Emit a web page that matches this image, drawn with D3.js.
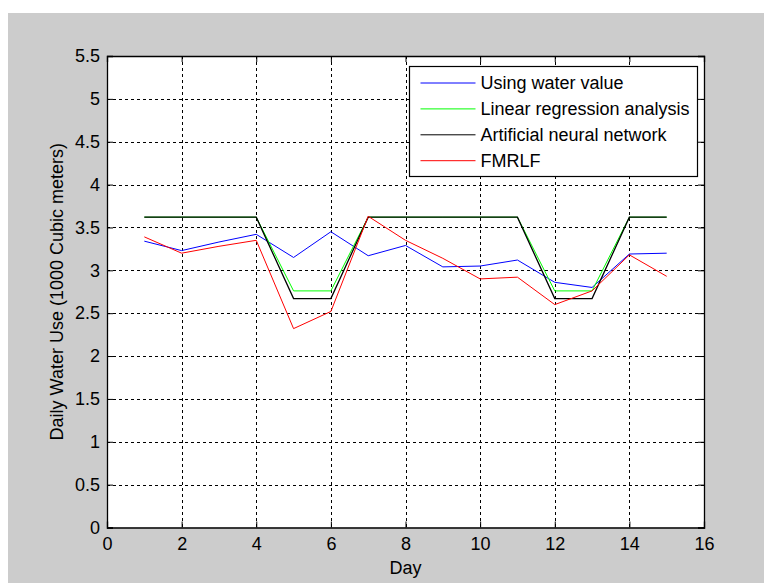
<!DOCTYPE html>
<html>
<head>
<meta charset="utf-8">
<script src="https://cdn.jsdelivr.net/npm/d3@7"></script>
<style>
  html, body { margin: 0; padding: 0; background: #fff; }
  svg { display: block; }
</style>
</head>
<body>
<div id="chart"></div>
<script>
const days = [1, 2, 3, 4, 5, 6, 7, 8, 9, 10, 11, 12, 13, 14, 15];
const waterValue = [3.34, 3.23, 3.33, 3.42, 3.15, 3.45, 3.17, 3.29, 3.04, 3.05, 3.12, 2.86, 2.80, 3.19, 3.20];
const linearRegression = [3.62, 3.62, 3.62, 3.62, 2.76, 2.76, 3.62, 3.62, 3.62, 3.62, 3.62, 2.76, 2.76, 3.62, 3.62];
const neuralNetwork = [3.62, 3.62, 3.62, 3.62, 2.67, 2.67, 3.62, 3.62, 3.62, 3.62, 3.62, 2.67, 2.67, 3.62, 3.62];
const fmrlf = [3.39, 3.20, 3.28, 3.35, 2.32, 2.52, 3.63, 3.35, 3.14, 2.90, 2.92, 2.60, 2.76, 3.18, 2.93];
const xTicks = [0, 2, 4, 6, 8, 10, 12, 14, 16];
const yTicks = [0, 0.5, 1, 1.5, 2, 2.5, 3, 3.5, 4, 4.5, 5, 5.5];

const series = [
  { name: "Using water value", values: waterValue, color: "#0000ff", w: 1 },
  { name: "Linear regression analysis", values: linearRegression, color: "#00ff00", w: 1 },
  { name: "Artificial neural network", values: neuralNetwork, color: "#000000", w: 1.3 },
  { name: "FMRLF", values: fmrlf, color: "#ff0000", w: 1 }
];

const width = 764, height = 583;
const plotLeft = 107, plotRight = 704, plotTop = 56, plotBottom = 527.5;
const fontSize = "18px";

const svg = d3.select("#chart").append("svg")
  .attr("width", width)
  .attr("height", height)
  .style("font-family", "Arial, 'Liberation Sans', sans-serif");

// figure background
svg.append("rect")
  .attr("x", 8).attr("y", 13)
  .attr("width", width - 8).attr("height", height - 13)
  .attr("fill", "#cccccc");

const x = d3.scaleLinear().domain([0, 16]).range([plotLeft, plotRight]);
const y = d3.scaleLinear().domain([0, 5.5]).range([plotBottom, plotTop]);

svg.append("rect")
  .attr("x", plotLeft).attr("y", plotTop)
  .attr("width", plotRight - plotLeft).attr("height", plotBottom - plotTop)
  .attr("fill", "#fff");

// grid
const grid = svg.append("g")
  .attr("stroke", "#000")
  .attr("stroke-width", 1)
  .attr("stroke-dasharray", "3,3");
grid.selectAll(".gx")
  .data(xTicks.slice(1, -1))
  .join("line")
  .attr("x1", d => Math.round(x(d)) + 0.5).attr("x2", d => Math.round(x(d)) + 0.5)
  .attr("y1", plotTop).attr("y2", plotBottom);
grid.selectAll(".gy")
  .data(yTicks.slice(1, -1))
  .join("line")
  .attr("y1", d => Math.round(y(d)) + 0.5).attr("y2", d => Math.round(y(d)) + 0.5)
  .attr("x1", plotLeft).attr("x2", plotRight);

// axes with inward ticks on all four sides
const tickLen = 6;
svg.append("g")
  .attr("transform", `translate(0,${plotBottom})`)
  .call(d3.axisBottom(x).tickValues(xTicks).tickSize(-tickLen).tickPadding(10).tickFormat(d3.format("d")));
svg.append("g")
  .attr("transform", `translate(0,${plotTop})`)
  .call(d3.axisTop(x).tickValues(xTicks).tickSize(-tickLen).tickFormat(""));
svg.append("g")
  .attr("transform", `translate(${plotLeft},0)`)
  .call(d3.axisLeft(y).tickValues(yTicks).tickSize(-tickLen).tickPadding(7).tickFormat(d => d3.format("")(d)));
svg.append("g")
  .attr("transform", `translate(${plotRight},0)`)
  .call(d3.axisRight(y).tickValues(yTicks).tickSize(-tickLen).tickFormat(""));

svg.selectAll(".domain").attr("stroke", "#000").attr("stroke-width", 1.3);
svg.selectAll(".tick line").attr("stroke", "#000");
svg.selectAll(".tick text")
  .attr("fill", "#000")
  .style("font-size", fontSize);

// lines
const line = d3.line()
  .x((d, i) => x(days[i]))
  .y(d => y(d));

svg.append("g")
  .selectAll("path")
  .data(series)
  .join("path")
  .attr("fill", "none")
  .attr("stroke", d => d.color)
  .attr("stroke-width", d => d.w)
  .attr("d", d => line(d.values));

// legend
const lg = svg.append("g").attr("transform", "translate(409.5,66.5)");
lg.append("rect")
  .attr("width", 288).attr("height", 110)
  .attr("fill", "#fff")
  .attr("stroke", "#000")
  .attr("stroke-width", 1.2);
const item = lg.selectAll(".item")
  .data(series)
  .join("g")
  .attr("transform", (d, i) => `translate(0,${16.5 + i * 25.9})`);
item.append("line")
  .attr("x1", 11).attr("x2", 66)
  .attr("stroke", d => d.color)
  .attr("stroke-width", 1);
item.append("text")
  .attr("x", 71)
  .attr("dy", "0.35em")
  .style("font-size", fontSize)
  .attr("fill", "#000")
  .text(d => d.name);

// axis labels
svg.append("text")
  .attr("x", (plotLeft + plotRight) / 2)
  .attr("y", 574)
  .attr("text-anchor", "middle")
  .style("font-size", fontSize)
  .text("Day");
svg.append("text")
  .attr("transform", `translate(63,${(plotTop + plotBottom) / 2}) rotate(-90)`)
  .attr("text-anchor", "middle")
  .style("font-size", fontSize)
  .text("Daily Water Use (1000 Cubic meters)");
</script>
</body>
</html>
